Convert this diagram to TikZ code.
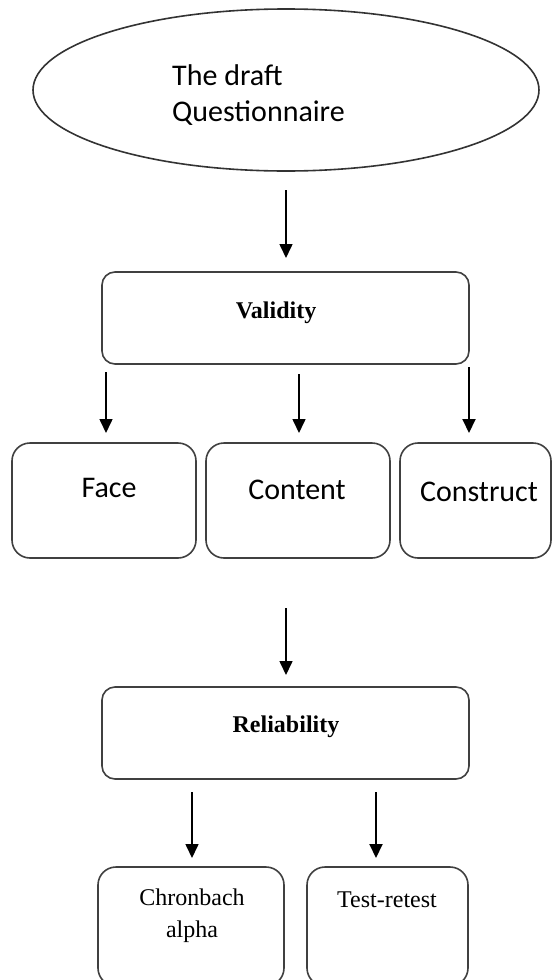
\documentclass[tikz,border=0pt]{standalone}
\usepackage{fontspec}
\setmainfont{Liberation Serif}
\newfontfamily\califont{Carlito}
\usetikzlibrary{arrows.meta,shapes.geometric}

\tikzset{
  box/.style={draw=black!75, line width=1.6pt, rounded corners=13pt, inner sep=0pt},
  arr/.style={-{Triangle[width=13pt,length=14pt]}, line width=1.6pt},
  cal/.style={font=\califont\fontsize{30}{36}\selectfont, inner sep=0pt},
  tms/.style={font=\fontsize{24}{32}\selectfont, inner sep=0pt},
  tmsb/.style={font=\bfseries\fontsize{24}{32}\selectfont, inner sep=0pt},
}

\begin{document}
\begin{tikzpicture}[x=1pt,y=-1pt]
    \useasboundingbox (0,0) rectangle (552,980);
    \clip (0,0) rectangle (552,980);
    % the draft questionnaire
    \node[draw=black!80, line width=1.6pt, ellipse, inner sep=0pt,
          minimum width=506pt, minimum height=162pt] (draft) at (286,90) {};
    \node[cal, align=left, anchor=west] (drafttxt) at (172,95) {The draft\\Questionnaire};
    \coordinate (d1) at (286,190);
    \coordinate (d2) at (286,258);
    \draw[arr] (d1) -- (d2);
    % validity
    \node[box, minimum width=367pt, minimum height=92pt] (val) at (285.5,318) {};
    \node[tmsb] (valtxt) at (276,313) {Validity};
    \def\vtop{372}
    \def\vbot{433}
    \coordinate (v1) at (106,\vtop);
    \coordinate (v2) at (299,\vtop+2);
    \coordinate (v3) at (469,\vtop-5);
    \coordinate (f1) at (106,\vbot);
    \coordinate (f2) at (299,\vbot);
    \coordinate (f3) at (469,\vbot);
    \draw[arr] (v1) -- (f1);
    \draw[arr] (v2) -- (f2);
    \draw[arr, line width=2pt] (v3) -- (f3);
    % three kinds of validity
    \node[box, rounded corners=18pt, minimum width=184pt, minimum height=115pt] (face) at (104,500.5) {};
    \node[box, rounded corners=18pt, minimum width=184pt, minimum height=115pt] (cont) at (298,500.5) {};
    \node[box, rounded corners=18pt, minimum width=151pt, minimum height=115pt] (cons) at (475.5,500.5) {};
    \node[cal] (facetxt) at (109,488) {Face};
    \node[cal] (conttxt) at (297,490) {Content};
    \node[cal] (constxt) at (479,492) {Construct};
    \coordinate (r1) at (286,608);
    \coordinate (r2) at (286,675);
    \draw[arr] (r1) -- (r2);
    % reliability
    \node[box, minimum width=367pt, minimum height=92pt] (rel) at (285.5,733) {};
    \node[tmsb] (reltxt) at (286,727) {Reliability};
    \def\rtop{792}
    \def\rbot{858}
    \coordinate (c1) at (192,\rtop);
    \coordinate (c2) at (192,\rbot);
    \coordinate (t1) at (376,\rtop);
    \coordinate (t2) at (376,\rbot);
    \draw[arr] (c1) -- (c2);
    \draw[arr, line width=2pt] (t1) -- (t2);
    % two kinds of reliability
    \node[box, rounded corners=18pt, minimum width=186pt, minimum height=119pt] (chr) at (191,926.5) {};
    \node[box, rounded corners=18pt, minimum width=161pt, minimum height=119pt] (trt) at (387.5,926.5) {};
    \node[tms, align=center] (chrtxt) at (192,916) {Chronbach\\alpha};
    \node[tms] (trttxt) at (387,900) {Test-retest};
\end{tikzpicture}
\end{document}
